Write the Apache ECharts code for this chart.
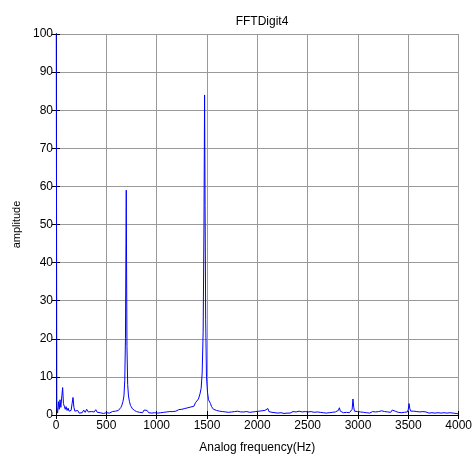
<!DOCTYPE html>
<html><head><meta charset="utf-8">
<script src="https://cdn.jsdelivr.net/npm/echarts@6/dist/echarts.min.js"></script>
<style>html,body{margin:0;padding:0;background:#fff}#c{width:475px;height:459px}</style>
</head><body><div id="c"></div>
<script>
const titleText = "FFTDigit4";
const xName = "Analog frequency(Hz)";
const yName = "amplitude";
const freqs = [0,8,16,24,32,40,48,58,66,74,82,92,100,110,120,130,140,150,160,169,178,188,200,215,230,245,260,275,290,305,320,335,350,365,380,395,410,425,440,455,470,485,500,515,530,545,560,575,590,605,620,635,645,655,665,675,683,690,695,698,701,705,712,720,730,740,750,760,770,780,790,800,815,830,845,860,875,890,905,920,935,950,965,980,995,1010,1025,1040,1055,1070,1085,1100,1115,1130,1145,1160,1175,1190,1205,1220,1235,1250,1265,1280,1295,1310,1325,1340,1355,1370,1385,1400,1415,1430,1442,1452,1462,1470,1476,1481,1487,1495,1505,1515,1525,1535,1545,1555,1565,1580,1595,1610,1625,1640,1655,1670,1685,1700,1715,1730,1745,1760,1775,1790,1805,1820,1835,1850,1865,1880,1895,1910,1925,1940,1955,1970,1985,2000,2015,2030,2045,2060,2075,2090,2105,2115,2130,2145,2160,2175,2190,2205,2220,2235,2250,2265,2280,2295,2310,2325,2340,2355,2370,2385,2400,2415,2430,2445,2460,2475,2490,2505,2520,2535,2550,2565,2580,2595,2610,2625,2640,2655,2670,2685,2700,2715,2730,2745,2760,2775,2790,2805,2815,2825,2840,2855,2870,2885,2900,2915,2930,2942,2950,2958,2965,2980,2995,3010,3025,3040,3055,3070,3085,3100,3115,3130,3145,3160,3175,3190,3205,3220,3235,3250,3265,3280,3295,3310,3325,3340,3355,3370,3385,3400,3415,3430,3445,3460,3475,3490,3500,3507,3515,3525,3540,3555,3570,3585,3600,3615,3630,3645,3660,3675,3690,3705,3720,3735,3750,3765,3780,3795,3810,3825,3840,3855,3870,3885,3900,3915,3930,3945,3960,3975,3990,4000];
const amps = [150,2,0.5,3.5,1.5,4,2,5,7.2,3,2.5,1.5,2.2,1.2,1.8,1,1.5,1.2,3,4.6,2,1,0.8,1.2,0.5,0.8,0.6,1.3,0.7,1.5,0.8,0.5,0.9,0.6,0.8,1.4,0.7,1,0.6,0.9,0.4,0.8,0.6,1.0,0.5,0.7,0.9,0.5,1.0,0.8,1.2,1.6,2,2.6,3.5,5,9,20,45,59,40,18,8,5,3.5,2.5,2,1.6,1.8,1.2,1.5,0.9,1.2,0.7,1.0,0.6,1.3,0.8,1.2,0.6,0.9,0.5,0.8,0.6,0.9,0.5,0.7,0.6,0.9,0.7,1.0,0.8,1.1,0.9,1.2,0.9,1.3,1.0,1.2,1.4,1.1,1.5,1.3,1.7,1.5,1.9,2.0,2.1,2.5,2.3,3.2,3.6,4.2,5.5,7,11,22,50,84,55,25,10,6,4,3.5,3,2.2,1.8,1.5,1.8,1.2,1.5,1.0,1.3,0.9,1.2,0.8,1.0,0.7,1.1,0.8,0.6,0.9,0.7,1.0,0.6,0.8,0.5,0.8,0.6,0.9,0.5,0.7,0.6,0.8,0.5,0.9,0.7,1.0,0.8,1.1,0.8,1.2,1.0,1.7,0.9,1.2,0.7,1.0,0.6,0.9,0.5,0.8,0.6,0.7,0.4,0.6,0.5,0.8,0.5,0.7,0.9,0.6,0.8,0.7,1.0,0.6,0.8,0.6,0.9,0.7,0.8,0.6,0.9,0.5,0.7,0.6,0.8,0.5,0.7,0.9,0.6,0.8,0.5,0.7,0.6,0.9,0.7,1.0,0.8,1.1,1.2,1.9,1.0,0.8,0.6,0.9,0.7,0.8,0.6,0.9,1.5,4.2,2.0,1.0,1.1,0.9,1.2,0.8,1.0,0.7,0.9,0.6,0.8,0.5,0.7,0.9,0.6,0.8,0.5,0.9,0.7,1.1,0.7,0.9,1.2,0.8,1.0,0.7,1.3,0.8,1.0,1.1,0.7,1.0,0.6,0.9,0.7,1.2,0.8,1.5,3.0,1.6,1.0,0.8,1.0,0.7,0.9,0.6,0.8,0.5,0.9,0.6,0.8,0.7,0.5,0.8,0.6,0.9,0.5,0.7,0.6,0.8,0.5,0.7,0.6,0.8,0.5,0.7,0.6,0.8,0.5,0.6,0.4,0.5,0.3];

const font = "Liberation Sans, Arial, sans-serif";
const data = freqs.map((f, i) => [f, amps[i]]);
const chart = echarts.init(document.getElementById('c'), null, {renderer: 'canvas'});
const axisLine = {show: true, lineStyle: {color: '#000', width: 1}};
const tick = {show: true, inside: true, length: 4, lineStyle: {color: '#000'}};
const grid = {show: true, lineStyle: {color: '#9a9a9a', width: 1, type: 'solid'}};
chart.setOption({
  animation: false,
  backgroundColor: '#fff',
  title: {text: titleText, left: 257, top: 11, textAlign: 'center',
    textStyle: {fontFamily: font, fontSize: 12, fontWeight: 'normal', color: '#000'}},
  grid: {left: 56, right: 16, top: 34, bottom: 42},
  xAxis: [{
    type: 'value', min: 0, max: 4000, interval: 500, position: 'bottom',
    name: xName, nameLocation: 'middle', nameGap: 27,
    nameTextStyle: {fontFamily: font, fontSize: 12, color: '#000'},
    axisLine, axisTick: tick, splitLine: grid,
    axisLabel: {fontFamily: font, fontSize: 12, color: '#000', margin: 5, formatter: v => String(v)}
  }, {
    type: 'value', min: 0, max: 4000, interval: 500, position: 'top',
    axisLine, axisTick: tick, splitLine: {show: false}, axisLabel: {show: false}
  }],
  yAxis: [{
    type: 'value', min: 0, max: 100, interval: 10, position: 'left',
    name: yName, nameLocation: 'middle', nameGap: 33,
    nameTextStyle: {fontFamily: font, fontSize: 11, color: '#000'},
    axisLine, axisTick: tick, splitLine: grid,
    axisLabel: {fontFamily: font, fontSize: 12, color: '#000', margin: 3, formatter: v => String(v)}
  }, {
    type: 'value', min: 0, max: 100, interval: 10, position: 'right',
    axisLine, axisTick: tick, splitLine: {show: false}, axisLabel: {show: false}
  }],
  series: [{
    type: 'line', data, showSymbol: false, symbol: 'none', clip: true,
    lineStyle: {color: '#0000ff', width: 1}
  }]
});
</script></body></html>
